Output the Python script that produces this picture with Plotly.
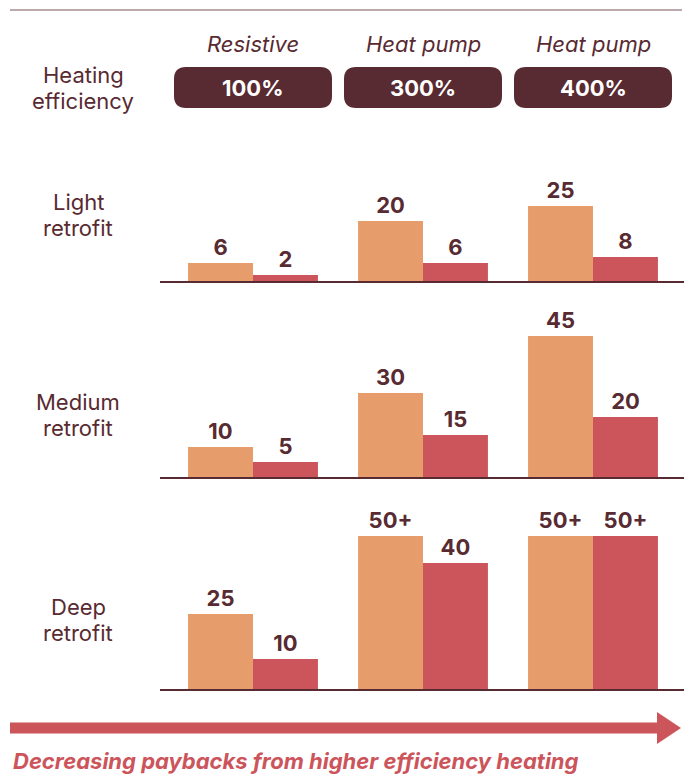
import plotly.graph_objects as go

# ---- data ----
groups = [0, 1, 2]
heating_types = ["Resistive", "Heat pump", "Heat pump"]
efficiency = ["100%", "300%", "400%"]
retrofits = [("Light", "retrofit"), ("Medium", "retrofit"), ("Deep", "retrofit")]

light_orange = [6, 20, 25]
light_red = [2, 6, 8]
light_orange_txt = ["6", "20", "25"]
light_red_txt = ["2", "6", "8"]

medium_orange = [10, 28, 47]
medium_red = [5, 14, 20]
medium_orange_txt = ["10", "30", "45"]
medium_red_txt = ["5", "15", "20"]

deep_orange = [25, 51, 51]
deep_red = [10, 42, 51]
deep_orange_txt = ["25", "50+", "50+"]
deep_red_txt = ["10", "40", "50+"]

ORANGE = "#E69C6B"
RED = "#CC545B"
MAROON = "#582A31"
FONT = "Inter"
FS = 22

W, H = 684, 774


def px_x(p):
    return p / W


def px_y(p):
    return 1 - p / H


panels = [
    (light_orange, light_red, light_orange_txt, light_red_txt, 281, 30),
    (medium_orange, medium_red, medium_orange_txt, medium_red_txt, 477, 55),
    (deep_orange, deep_red, deep_orange_txt, deep_red_txt, 689, 60),
]
PX_PER_UNIT = 3

fig = go.Figure()
layout_axes = {}
for i, (o, r, ot, rt, base, top) in enumerate(panels):
    n = "" if i == 0 else str(i + 1)
    for vals, txt, col, off in [(o, ot, ORANGE, -0.382), (r, rt, RED, 0.0)]:
        fig.add_trace(go.Bar(
            x=groups, y=vals, text=txt, textposition="outside",
            texttemplate="%{text}",
            textfont=dict(family=FONT, size=FS, color=MAROON, weight="bold"),
            marker=dict(color=col, line=dict(width=0)),
            width=0.382, offset=off, cliponaxis=False,
            xaxis="x" + n, yaxis="y" + n, showlegend=False, hoverinfo="skip",
        ))
    layout_axes["xaxis" + n] = dict(
        domain=[px_x(160), 1], range=[(160 - 253) / 170, (684 - 253) / 170],
        anchor="y" + n, showline=True, linecolor=MAROON, linewidth=2,
        showgrid=False, zeroline=False, showticklabels=False, ticks="",
    )
    layout_axes["yaxis" + n] = dict(
        domain=[px_y(base), px_y(base - PX_PER_UNIT * top)], range=[0, top],
        anchor="x" + n, visible=False, showgrid=False, zeroline=False,
    )

fig.update_layout(**layout_axes)


def rounded_rect(x0, y0, x1, y1, r):
    X = px_x
    Y = px_y
    return (f"M {X(x0 + r)} {Y(y0)} L {X(x1 - r)} {Y(y0)} Q {X(x1)} {Y(y0)} {X(x1)} {Y(y0 + r)} "
            f"L {X(x1)} {Y(y1 - r)} Q {X(x1)} {Y(y1)} {X(x1 - r)} {Y(y1)} "
            f"L {X(x0 + r)} {Y(y1)} Q {X(x0)} {Y(y1)} {X(x0)} {Y(y1 - r)} "
            f"L {X(x0)} {Y(y0 + r)} Q {X(x0)} {Y(y0)} {X(x0 + r)} {Y(y0)} Z")


def label(x, y, text, **font):
    f = dict(family=FONT, size=FS, color=MAROON)
    f.update(font)
    return dict(x=px_x(x), y=px_y(y), xref="paper", yref="paper", text=text,
                showarrow=False, xanchor="center", yanchor="middle", font=f)


shapes = []
# top rule
shapes.append(dict(type="line", xref="paper", yref="paper", x0=px_x(10), x1=px_x(682),
                   y0=px_y(10), y1=px_y(10), line=dict(color="#7A545A", width=1.2)))

annotations = []
for i, g in enumerate(groups):
    cx = 253 + 170 * g
    shapes.append(dict(type="path", xref="paper", yref="paper",
                       path=rounded_rect(cx - 79, 67, cx + 79, 108, 12),
                       fillcolor=MAROON, line=dict(width=0)))
    annotations.append(label(cx, 87.5, efficiency[i], color="white", weight="bold"))
    annotations.append(label(cx, 44, heating_types[i], style="italic"))

annotations.append(label(83, 75, "Heating"))
annotations.append(label(83, 101, "efficiency"))
for (l1, l2), cy in zip(retrofits, [215, 415, 620]):
    annotations.append(label(78, cy - 13, l1))
    annotations.append(label(78, cy + 13, l2))

# arrow
arrow = (f"M {px_x(10)} {px_y(722.5)} L {px_x(657)} {px_y(722.5)} L {px_x(657)} {px_y(712)} "
         f"L {px_x(681)} {px_y(728)} L {px_x(657)} {px_y(744)} L {px_x(657)} {px_y(733.5)} "
         f"L {px_x(10)} {px_y(733.5)} Z")
shapes.append(dict(type="path", xref="paper", yref="paper", path=arrow,
                   fillcolor=RED, line=dict(width=0)))
bottom = label(11, 761, "Decreasing paybacks from higher efficiency heating",
               color=RED, style="italic", weight="bold")
bottom["xanchor"] = "left"
annotations.append(bottom)

fig.update_layout(
    width=W, height=H, margin=dict(l=0, r=0, t=0, b=0),
    paper_bgcolor="white", plot_bgcolor="white",
    shapes=shapes, annotations=annotations,
    barmode="overlay",
)

fig.write_html("out.html", config={"displayModeBar": False},
               post_script="document.body.style.margin='0';")
